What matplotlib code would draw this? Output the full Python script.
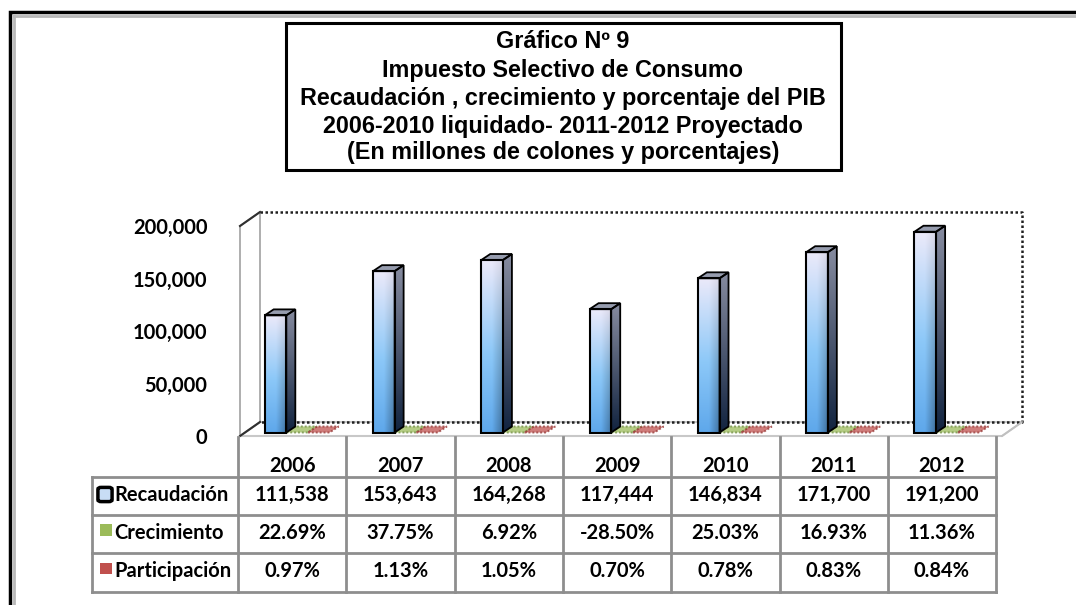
import numpy as np
import matplotlib
matplotlib.use("Agg")
import matplotlib.pyplot as plt
from matplotlib.patches import Polygon, Rectangle, FancyBboxPatch
from matplotlib.transforms import blended_transform_factory

# ---------------- data ----------------
years = ["2006", "2007", "2008", "2009", "2010", "2011", "2012"]
recaudacion = [111538, 153643, 164268, 117444, 146834, 171700, 191200]
crecimiento = [22.69, 37.75, 6.92, -28.50, 25.03, 16.93, 11.36]
participacion = [0.97, 1.13, 1.05, 0.70, 0.78, 0.83, 0.84]
series_names = ["Recaudación", "Crecimiento", "Participación"]
yticks = [0, 50000, 100000, 150000, 200000]
title_lines = ["Gráfico Nº 9",
               "Impuesto Selectivo de Consumo",
               "Recaudación , crecimiento y porcentaje del PIB",
               "2006-2010 liquidado- 2011-2012 Proyectado",
               "(En millones de colones y porcentajes)"]

W, H = 1076, 605
fig = plt.figure(figsize=(W / 100, H / 100), dpi=100)
fig.patch.set_facecolor("white")


def fx(px):
    return px / W


def fy(py):
    return 1 - py / H


TFONT = "Liberation Sans"
BFONT = "Lato"

# ---------------- chart axes ----------------
XPX = 108.3           # pixels per category
ax_left, ax_bottom_px, ax_top_px = 238, 436, 194
XMAX = 7.4
ax = fig.add_axes([fx(ax_left), fy(ax_bottom_px), XMAX * XPX / W,
                   (ax_bottom_px - ax_top_px) / H])
YMAX = (ax_bottom_px - ax_top_px) / 210 * 200000
ax.set_xlim(0, XMAX)
ax.set_ylim(0, YMAX)
ax.set_frame_on(False)
ax.set_xticks([])
ax.set_yticks(yticks)
ax.set_yticklabels([f"{v:,}" for v in yticks], fontfamily=BFONT,
                   fontweight="bold", fontsize=14.5)
ax.tick_params(axis="y", length=0, pad=22)

YPX = 210 / 200000
DX = 20 / XPX
DY = 14 / YPX
x0 = 2 / XPX
xr = 764 / XPX

# walls and floor
floor = Polygon([(x0, 0), (xr, 0), (xr + DX, DY), (x0 + DX, DY)], closed=True,
                facecolor="white", edgecolor="#C8C8C8", lw=1.5, zorder=1, clip_on=False)
ax.add_patch(floor)
left_wall = Polygon([(x0, 0), (x0, 200000), (x0 + DX, 200000 + DY), (x0 + DX, DY)],
                    closed=True, facecolor="white", edgecolor="#A8A8A8", lw=1.3,
                    zorder=1, clip_on=False)
ax.add_patch(left_wall)
ax.plot([x0, x0 + DX], [200000, 200000 + DY], color="#303030", lw=1.5, zorder=2, clip_on=False)
ax.plot([x0, x0 + DX], [0, DY], color="#303030", lw=1.5, zorder=2, clip_on=False)
ax.plot([x0 + DX, xr + DX, xr + DX, x0 + DX],
        [200000 + DY, 200000 + DY, DY, DY], color="#202020", lw=1.8,
        ls=(0, (1, 1)), zorder=1.5, clip_on=False)
ax.plot([xr, xr + DX], [0, DY], color="#C0C0C0", lw=1.2, zorder=1.5, clip_on=False)

# bars
BW = 0.2
bdx0, bdy0 = 5 / XPX, 3.5 / YPX
bdx, bdy = 9 / XPX, 6 / YPX


def front_img(n=80):
    t = np.linspace(0, 1, n)[:, None, None]
    s = np.linspace(0, 1, 40)[None, :, None]
    top = np.array([236, 234, 250]) / 255
    mid = np.array([140, 200, 248]) / 255
    bot = np.array([95, 168, 235]) / 255
    c = np.where(t < 0.55, top * (1 - t / 0.55) + mid * (t / 0.55),
                 mid * (1 - (t - 0.55) / 0.45) + bot * ((t - 0.55) / 0.45))
    shade = 1 - 0.5 * np.clip(s - 0.5, 0, 1) * (0.3 + t)
    return np.clip(c * shade, 0, 1)


def side_img(n=80):
    t = np.linspace(0, 1, n)[:, None, None]
    top = np.array([135, 140, 160]) / 255
    bot = np.array([18, 36, 64]) / 255
    c = top * (1 - t) + bot * t
    return np.repeat(c, 10, axis=1)


FIMG = front_img()
SIMG = side_img()

series_colors = ["#7FB8EE", "#9BBB59", "#C0504D"]
series_edges = ["black", "#6E8B3D", "#943634"]
values = [recaudacion, crecimiento, participacion]

for i in range(len(years)):
    for k in range(3):
        v = values[k][i]
        xa = i + 0.2 + k * BW + bdx0
        xb = xa + BW
        ya = bdy0
        yb = bdy0 + v
        if k == 0:
            z = 3 + i * 0.1
            im = ax.imshow(FIMG, extent=(xa, xb, ya, yb), origin="upper",
                           aspect="auto", interpolation="bilinear", zorder=z)
            im.set_clip_on(False)
            side = [(xb, ya), (xb + bdx, ya + bdy), (xb + bdx, yb + bdy), (xb, yb)]
            sp = Polygon(side, closed=True, transform=ax.transData)
            im2 = ax.imshow(SIMG, extent=(xb, xb + bdx, ya, yb + bdy), origin="upper",
                            aspect="auto", interpolation="bilinear", zorder=z)
            im2.set_clip_path(sp)
            topf = [(xa, yb), (xb, yb), (xb + bdx, yb + bdy), (xa + bdx, yb + bdy)]
            ax.add_patch(Polygon(topf, closed=True, facecolor="#969CAE",
                                 edgecolor="black", lw=1.3, zorder=z + 0.01, clip_on=False))
            ax.add_patch(Polygon(side, closed=True, facecolor="none",
                                 edgecolor="black", lw=1.3, zorder=z + 0.01, clip_on=False))
            ax.add_patch(Rectangle((xa, ya), BW, v, facecolor="none",
                                   edgecolor="black", lw=1.5, zorder=z + 0.02, clip_on=False))
        else:
            hh = max(v, 0)
            topf = [(xa, ya + hh), (xb, ya + hh), (xb + bdx, ya + hh + bdy),
                    (xa + bdx, ya + hh + bdy)]
            ax.add_patch(Polygon(topf, closed=True, facecolor=series_colors[k],
                                 alpha=0.75, edgecolor=series_edges[k], lw=1.4,
                                 ls=(0, (1, 1)), zorder=2.5, clip_on=False))

ax.set_xlim(0, XMAX)
ax.set_ylim(0, YMAX)

# ---------------- table ----------------
tr = blended_transform_factory(ax.transData, fig.transFigure)
gray = "#8E8E8E"
row_lines = [477, 515, 553, 592]
label_left_px = 92
lab_x = (label_left_px - ax_left) / XPX
for i in range(len(years) + 1):
    ax.plot([i, i], [fy(437), fy(592)], transform=tr, color=gray, lw=2,
            clip_on=False, zorder=5)
ax.plot([lab_x, lab_x], [fy(477), fy(592)], transform=tr, color=gray, lw=2,
        clip_on=False, zorder=5)
for yl in row_lines:
    ax.plot([lab_x, len(years)], [fy(yl), fy(yl)], transform=tr, color=gray, lw=2,
            clip_on=False, zorder=5)

tfont = dict(fontfamily=BFONT, fontweight="bold", fontsize=14.5, color="black")
for i, yr in enumerate(years):
    ax.text(i + 0.5, fy(466), yr, transform=tr, ha="center", va="center", **tfont)
    ax.text(i + 0.5, fy(495), f"{recaudacion[i]:,}", transform=tr, ha="center",
            va="center", **tfont)
    ax.text(i + 0.5, fy(533), f"{crecimiento[i]:.2f}%", transform=tr, ha="center",
            va="center", **tfont)
    ax.text(i + 0.5, fy(571), f"{participacion[i]:.2f}%", transform=tr, ha="center",
            va="center", **tfont)

row_centers = [495, 533, 571]
for r, name in enumerate(series_names):
    ax.text((114 - ax_left) / XPX, fy(row_centers[r]), name, transform=tr,
            ha="left", va="center", **tfont)

# legend keys
fig.patches.append(FancyBboxPatch((fx(99), fy(501)), 12 / W, 13 / H,
                                  boxstyle="round,pad=0.001,rounding_size=0.003",
                                  facecolor="#C8DDF5", edgecolor="black", lw=2.5,
                                  transform=fig.transFigure, zorder=6))
fig.patches.append(Rectangle((fx(100), fy(536)), 12 / W, 12 / H,
                             facecolor=series_colors[1], edgecolor="none",
                             transform=fig.transFigure, zorder=6))
fig.patches.append(Rectangle((fx(100), fy(574)), 12 / W, 11 / H,
                             facecolor=series_colors[2], edgecolor="none",
                             transform=fig.transFigure, zorder=6))

# ---------------- title box ----------------
fig.patches.append(Rectangle((fx(286), fy(170)), (841 - 286) / W, (170 - 23) / H,
                             facecolor="white", edgecolor="black", lw=2.2,
                             transform=fig.transFigure, zorder=4))
title_y = [42, 70, 99, 127, 153]
for line, yy in zip(title_lines, title_y):
    fig.text(fx(563), fy(yy), line, ha="center", va="center", fontfamily=TFONT,
             fontweight="bold", fontsize=16.8, zorder=7)

# ---------------- outer frame ----------------
fig.patches.append(Rectangle((fx(10), fy(640)), (1110 - 10) / W, (640 - 12) / H,
                             facecolor="none", edgecolor="black", lw=2.5,
                             transform=fig.transFigure, zorder=8, clip_on=False))
fig.lines.append(plt.Line2D([fx(14), fx(14)], [fy(16), fy(605)], color="#B8B8B8",
                            lw=2, transform=fig.transFigure, zorder=8))
fig.lines.append(plt.Line2D([fx(14), fx(1076)], [fy(16), fy(16)], color="#B8B8B8",
                            lw=2, transform=fig.transFigure, zorder=8))

fig.savefig("out.png", dpi=100)
